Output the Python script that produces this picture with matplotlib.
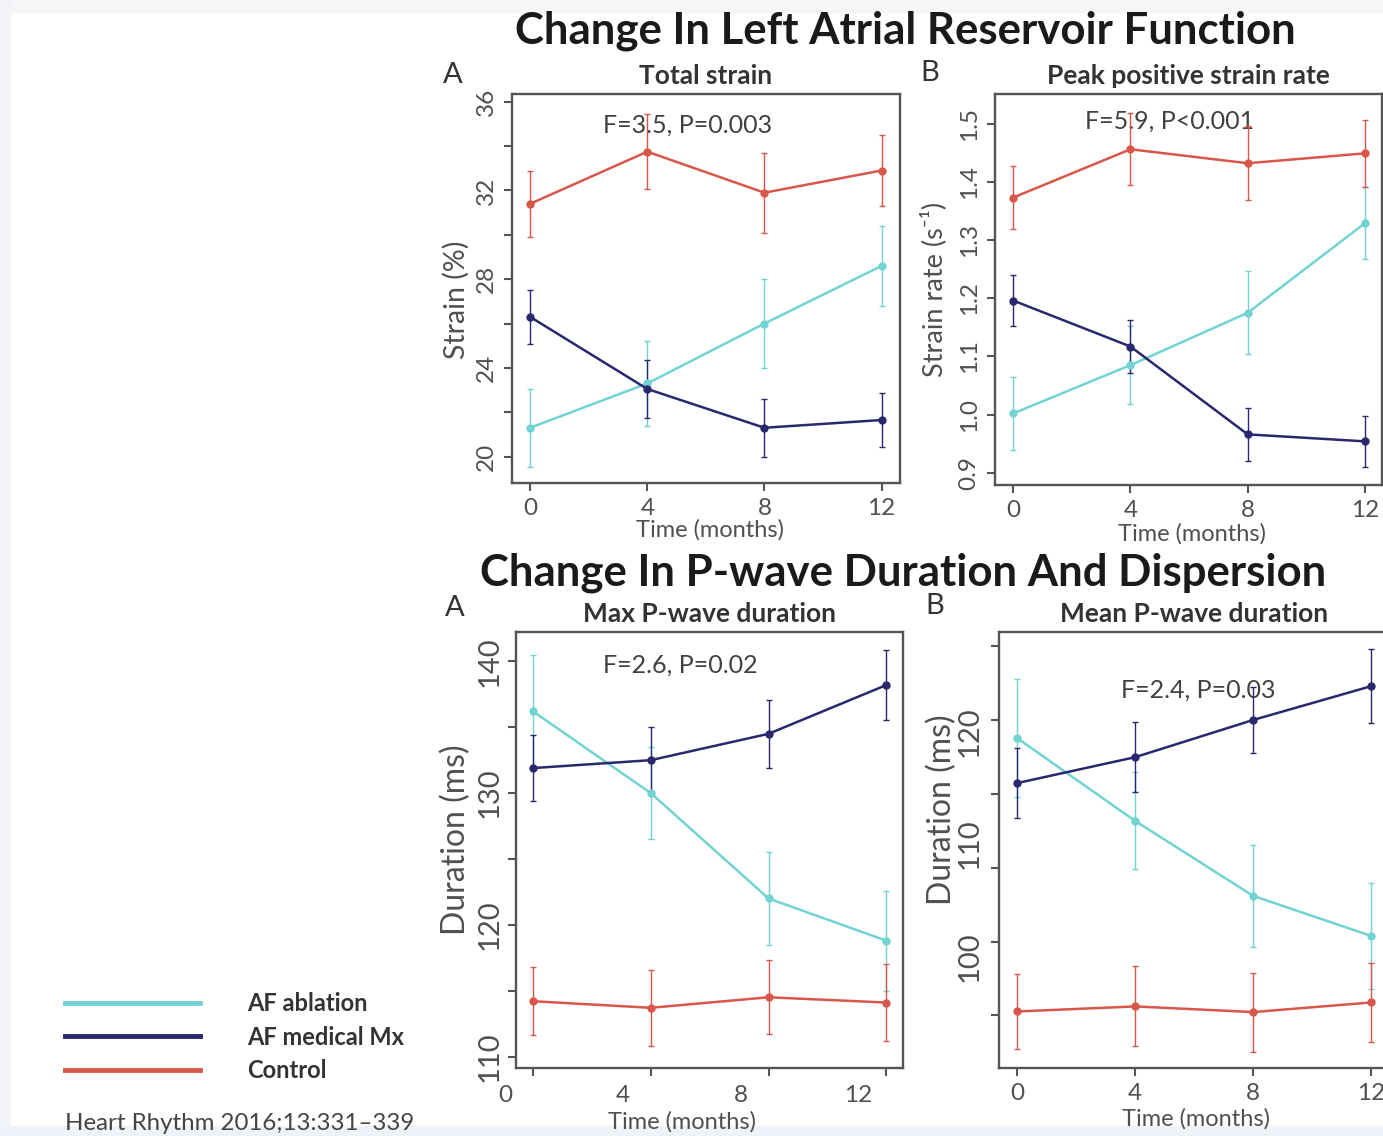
import numpy as np
import matplotlib
matplotlib.use('Agg')
import matplotlib.pyplot as plt
from matplotlib.lines import Line2D
from matplotlib.patches import Rectangle
from matplotlib.transforms import ScaledTranslation

plt.rcParams['font.family'] = ['Lato', 'DejaVu Sans']

W, H = 1383, 1136

# data (mean +/- error bar half length)
months = [0, 4, 8, 12]
groups = ['AF ablation', 'AF medical Mx', 'Control']
colors = ['#72d3d3', '#29286e', '#d9574a']

strain_abl = [21.3, 23.3, 26.0, 28.6]
strain_med = [26.3, 23.05, 21.3, 21.65]
strain_ctl = [31.4, 33.75, 31.9, 32.9]
strain_abl_err = [1.75, 1.9, 2.0, 1.8]
strain_med_err = [1.2, 1.3, 1.3, 1.2]
strain_ctl_err = [1.5, 1.7, 1.8, 1.6]

rate_abl = [1.002, 1.085, 1.175, 1.329]
rate_med = [1.196, 1.117, 0.966, 0.954]
rate_ctl = [1.373, 1.456, 1.432, 1.449]
rate_abl_err = [0.063, 0.067, 0.071, 0.062]
rate_med_err = [0.044, 0.046, 0.046, 0.044]
rate_ctl_err = [0.054, 0.062, 0.064, 0.058]

maxp_abl = [136.2, 130.0, 122.0, 118.8]
maxp_med = [131.9, 132.5, 134.5, 138.2]
maxp_ctl = [114.2, 113.7, 114.5, 114.1]
maxp_abl_err = [4.25, 3.5, 3.55, 3.8]
maxp_med_err = [2.5, 2.5, 2.6, 2.65]
maxp_ctl_err = [2.6, 2.9, 2.8, 2.9]

meanp_abl = [119.4, 112.05, 105.4, 101.85]
meanp_med = [115.4, 117.7, 121.0, 124.0]
meanp_ctl = [95.15, 95.6, 95.1, 95.95]
meanp_abl_err = [5.2, 4.3, 4.5, 4.7]
meanp_med_err = [3.1, 3.1, 2.95, 3.3]
meanp_ctl_err = [3.3, 3.55, 3.5, 3.5]

# the mean P-wave panel has its tick marks and numbers out of register in the source
meanp_tick_marks = [94.8, 101.35, 107.9, 114.45, 121.0, 127.55]
meanp_tick_labels = [100, 110, 120]


def px_box(x0, y0, x1, y1):
    return [x0 / W, 1 - y1 / H, (x1 - x0) / W, (y1 - y0) / H]


def fx(px):
    return px / W


def fy(py):
    return 1 - py / H


fig = plt.figure(figsize=(W / 100, H / 100), dpi=100)
fig.patch.set_facecolor('white')
# screenshot borders
fig.add_artist(Rectangle((0, fy(12)), 1, 12 / H, transform=fig.transFigure, color='#f5f6f8', zorder=-5))
fig.add_artist(Rectangle((0, 0), 10 / W, 1, transform=fig.transFigure, color='#f2f4f8', zorder=-5))
fig.add_artist(Rectangle((0, 0), 1, 10 / H, transform=fig.transFigure, color='#eef3f9', zorder=-5))

ax_tl = fig.add_axes(px_box(512, 94, 900, 483))
ax_tr = fig.add_axes(px_box(995, 94, 1382, 485))
ax_bl = fig.add_axes(px_box(516, 632, 903, 1068))
ax_br = fig.add_axes(px_box(999, 632, 1389, 1068))

panels = [
    (ax_tl, [strain_abl, strain_med, strain_ctl], [strain_abl_err, strain_med_err, strain_ctl_err]),
    (ax_tr, [rate_abl, rate_med, rate_ctl], [rate_abl_err, rate_med_err, rate_ctl_err]),
    (ax_bl, [maxp_abl, maxp_med, maxp_ctl], [maxp_abl_err, maxp_med_err, maxp_ctl_err]),
    (ax_br, [meanp_abl, meanp_med, meanp_ctl], [meanp_abl_err, meanp_med_err, meanp_ctl_err]),
]

for ax, vals, errs in panels:
    for v, e, c in zip(vals, errs, colors):
        ax.errorbar(months, v, yerr=e, color=c, lw=1.8, marker='o', ms=5,
                    elinewidth=1.0, capsize=2.5, capthick=1.0, zorder=3)
    for s in ax.spines.values():
        s.set_color('#555555')
        s.set_linewidth(1.7)
    ax.tick_params(which='major', direction='out', length=6, width=1.5, color='#555555',
                   labelsize=17.5, labelcolor='#505050', pad=5)
    ax.tick_params(axis='y', which='both', labelrotation=90)
    ax.set_xticks(months)
    ax.set_xticklabels([str(m) for m in months])

# the lower panels were stretched vertically in the source, so their y numbers are bigger
ax_bl.tick_params(axis='y', labelsize=21, pad=3.5)

# axis limits
ax_tl.set_xlim(-0.62, 12.63)
ax_tl.set_ylim(18.81, 36.35)
ax_tr.set_xlim(-0.62, 12.58)
ax_tr.set_ylim(0.879, 1.551)
ax_bl.set_xlim(-0.58, 12.57)
ax_bl.set_ylim(109.13, 142.23)
ax_br.set_xlim(-0.61, 12.6)
ax_br.set_ylim(90.14, 128.8)

ax_tl.set_yticks(np.arange(20, 37, 2))
ax_tl.set_yticklabels([str(v) if v % 4 == 0 else '' for v in range(20, 37, 2)])
ax_tr.set_yticks(np.arange(0.9, 1.51, 0.1))
ax_tr.set_yticklabels(['%.1f' % v for v in np.arange(0.9, 1.51, 0.1)])
ax_bl.set_yticks(np.arange(110, 141, 5))
ax_bl.set_yticklabels([str(v) if v % 10 == 0 else '' for v in range(110, 141, 5)])
ax_br.set_yticks(meanp_tick_marks)
ax_br.set_yticklabels([''] * len(meanp_tick_marks))
ax_br.set_yticks(meanp_tick_labels, minor=True)
ax_br.set_yticklabels([str(v) for v in meanp_tick_labels], minor=True)
ax_br.tick_params(axis='y', which='minor', length=0, labelsize=21, labelcolor='#505050', pad=12)

for ax in [ax_tl, ax_tr, ax_bl, ax_br]:
    plt.setp(ax.get_yticklabels(), va='center')
    plt.setp(ax.get_yticklabels(minor=True), va='center')

# x tick numbers of the max P-wave panel sit left of their ticks
for lab in ax_bl.get_xticklabels():
    lab.set_transform(lab.get_transform() + ScaledTranslation(-0.28, -0.02, fig.dpi_scale_trans))

# axis labels
lab_kw = dict(fontsize=17, color='#505050')
ax_tl.set_xlabel('Time (months)', **lab_kw)
ax_tr.set_xlabel('Time (months)', **lab_kw)
ax_bl.set_xlabel('Time (months)', **lab_kw)
ax_br.set_xlabel('Time (months)', **lab_kw)
ax_tl.xaxis.set_label_coords(0.51, -0.092)
ax_tr.xaxis.set_label_coords(0.51, -0.097)
ax_bl.xaxis.set_label_coords(0.43, -0.098)
ax_br.xaxis.set_label_coords(0.505, -0.093)

ax_tl.set_ylabel('Strain (%)', fontsize=20.5, color='#505050')
ax_tr.set_ylabel('Strain rate (s\u207b\u00b9)', fontsize=19.5, color='#505050')
ax_bl.set_ylabel('Duration (ms)', fontsize=23, color='#505050')
ax_br.set_ylabel('Duration (ms)', fontsize=23, color='#505050')
ax_tl.yaxis.set_label_coords(-0.108, 0.47)
ax_tr.yaxis.set_label_coords(-0.124, 0.50)
ax_bl.yaxis.set_label_coords(-0.116, 0.523)
ax_br.yaxis.set_label_coords(-0.108, 0.592)

# subtitles, statistics
sub_kw = dict(fontsize=19, fontweight='bold', color='#333333', pad=7)
ax_tl.set_title('Total strain', **sub_kw)
ax_tr.set_title('Peak positive strain rate', **sub_kw)
ax_bl.set_title('Max P-wave duration', **sub_kw)
ax_br.set_title('Mean P-wave duration', **sub_kw)

stat_kw = dict(fontsize=18, color='#404040', ha='center', va='center', zorder=1)
ax_tl.text((688 - 512) / 388, (483 - 125) / 389, 'F=3.5, P=0.003', transform=ax_tl.transAxes, **stat_kw)
ax_tr.text((1170 - 995) / 387, (485 - 121) / 391, 'F=5.9, P<0.001', transform=ax_tr.transAxes, **stat_kw)
ax_bl.text((680 - 516) / 387, (1068 - 665) / 436, 'F=2.6, P=0.02', transform=ax_bl.transAxes, **stat_kw)
ax_br.text((1198 - 999) / 390, (1068 - 690) / 436, 'F=2.4, P=0.03', transform=ax_br.transAxes, **stat_kw)

# panel letters and main headings
for x, y, t in [(453, 75, 'A'), (930, 73, 'B'), (455, 608, 'A'), (935, 606, 'B')]:
    fig.text(fx(x), fy(y), t, fontsize=21, color='#333333', ha='center', va='center')
fig.text(fx(905), fy(31), 'Change In Left Atrial Reservoir Function', fontsize=31.5,
         fontweight='bold', color='#1a1a1a', ha='center', va='center')
fig.text(fx(903), fy(573), 'Change In P-wave Duration And Dispersion', fontsize=31.5,
         fontweight='bold', color='#1a1a1a', ha='center', va='center')

# legend
handles = [Line2D([], [], color=c, lw=3.5) for c in colors]
fig.legend(handles, groups, loc='upper left', bbox_to_anchor=(fx(65), fy(992)),
           frameon=False, prop={'size': 17, 'weight': 'bold'}, labelcolor='#333333',
           handlelength=5.7, handletextpad=2.0, labelspacing=0.45,
           borderpad=0, borderaxespad=0)

fig.text(fx(65), fy(1124), 'Heart Rhythm 2016;13:331\u2013339', fontsize=17.3,
         color='#444444', ha='left', va='center')

fig.savefig('out.png', dpi=100)
